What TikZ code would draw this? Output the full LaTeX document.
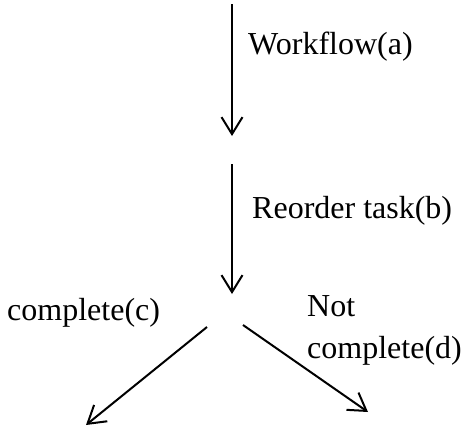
\documentclass[tikz,border=0pt]{standalone}
\usepackage{fontspec}
\setmainfont{Liberation Serif}
\usetikzlibrary{arrows.meta}
\begin{document}
\begin{tikzpicture}[x=1pt,y=-1pt,
  flow/.style={line width=2pt,-{Straight Barb[length=17pt,width=21pt,line width=2pt]}},
  lbl/.style={inner sep=0pt,anchor=base west,font=\fontsize{32}{36}\selectfont}]
\useasboundingbox (0,0) rectangle (463,429);
\coordinate (a1) at (232,4);
\coordinate (a2) at (232,136);
\coordinate (b1) at (232,164);
\coordinate (b2) at (232,294);
\coordinate (c1) at (207,327);
\coordinate (c2) at (86,425);
\coordinate (d1) at (243,325);
\coordinate (d2) at (368,412);
\draw[flow] (a1) -- (a2);
\draw[flow] (b1) -- (b2);
\draw[flow] (c1) -- (c2);
\draw[flow] (d1) -- (d2);
\node[lbl] (la) at (248,54) {Workflow(a)};
\node[lbl] (lb) at (252,218) {Reorder task(b)};
\node[lbl] (lc) at (7,320) {complete(c)};
\node[lbl] (ld1) at (307,316) {Not};
\node[lbl] (ld2) at (307,358) {complete(d)};
\end{tikzpicture}
\end{document}
